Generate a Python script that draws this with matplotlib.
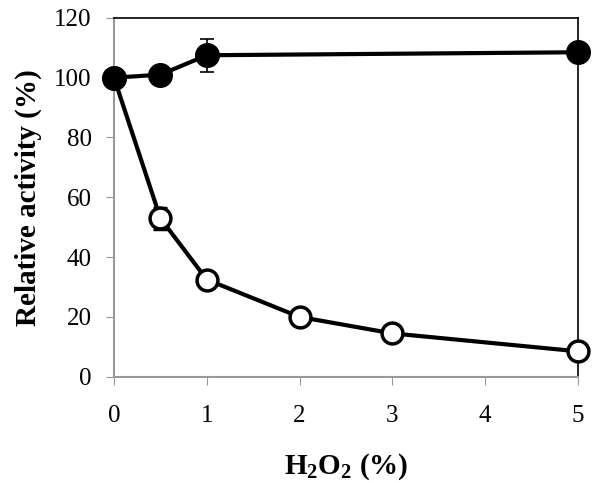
import numpy as np
import matplotlib.pyplot as plt

plt.rcParams['font.family'] = 'Liberation Serif'
plt.rcParams['mathtext.fontset'] = 'custom'
plt.rcParams['mathtext.rm'] = 'Liberation Serif'
plt.rcParams['mathtext.bf'] = 'Liberation Serif:bold'

x_filled = [0, 0.5, 1, 5]
y_filled = [100, 101, 107.5, 108.5]
err_filled = [0, 0, 5.5, 0]

x_open = [0, 0.5, 1, 2, 3, 5]
y_open = [100, 53, 32.5, 20, 14.5, 8.5]
err_open = [0, 3.5, 0, 0, 0, 0]

fig = plt.figure(figsize=(6, 4.83), dpi=100)
ax = fig.add_axes([0.19, 0.22, 0.773, 0.743])

for c in ax.errorbar(x_open, y_open, yerr=err_open, color='black', lw=3,
                     marker='o', ms=15, mfc='white', mec='black', mew=2.5,
                     ecolor='black', elinewidth=1.2, capsize=5, capthick=1.2,
                     zorder=3).get_children():
    c.set_clip_on(False)
for c in ax.errorbar(x_filled, y_filled, yerr=err_filled, color='black', lw=3,
                     marker='o', ms=17, mfc='black', mec='black',
                     ecolor='black', elinewidth=1.2, capsize=5, capthick=1.2,
                     zorder=4).get_children():
    c.set_clip_on(False)

ax.set_xlim(0, 5)
ax.set_ylim(0, 120)
ax.set_xticks([0, 1, 2, 3, 4, 5])
ax.set_yticks(range(0, 121, 20))
ax.tick_params(direction='out', length=6, color='#999999', labelsize=18)
ax.tick_params(axis='x', pad=14)
ax.tick_params(axis='y', pad=10)
for s in ['left', 'bottom']:
    ax.spines[s].set_color('#999999')
    ax.spines[s].set_linewidth(1.5)
for s in ['top', 'right']:
    ax.spines[s].set_color('black')
    ax.spines[s].set_linewidth(1.2)

ax.set_xlabel(r'H$_\mathbf{2}$O$_\mathbf{2}$ (%)', fontsize=21, fontweight='bold', labelpad=18)
ax.set_ylabel('Relative activity (%)', fontsize=21, fontweight='bold', labelpad=9)

fig.savefig('out.png', dpi=100)
